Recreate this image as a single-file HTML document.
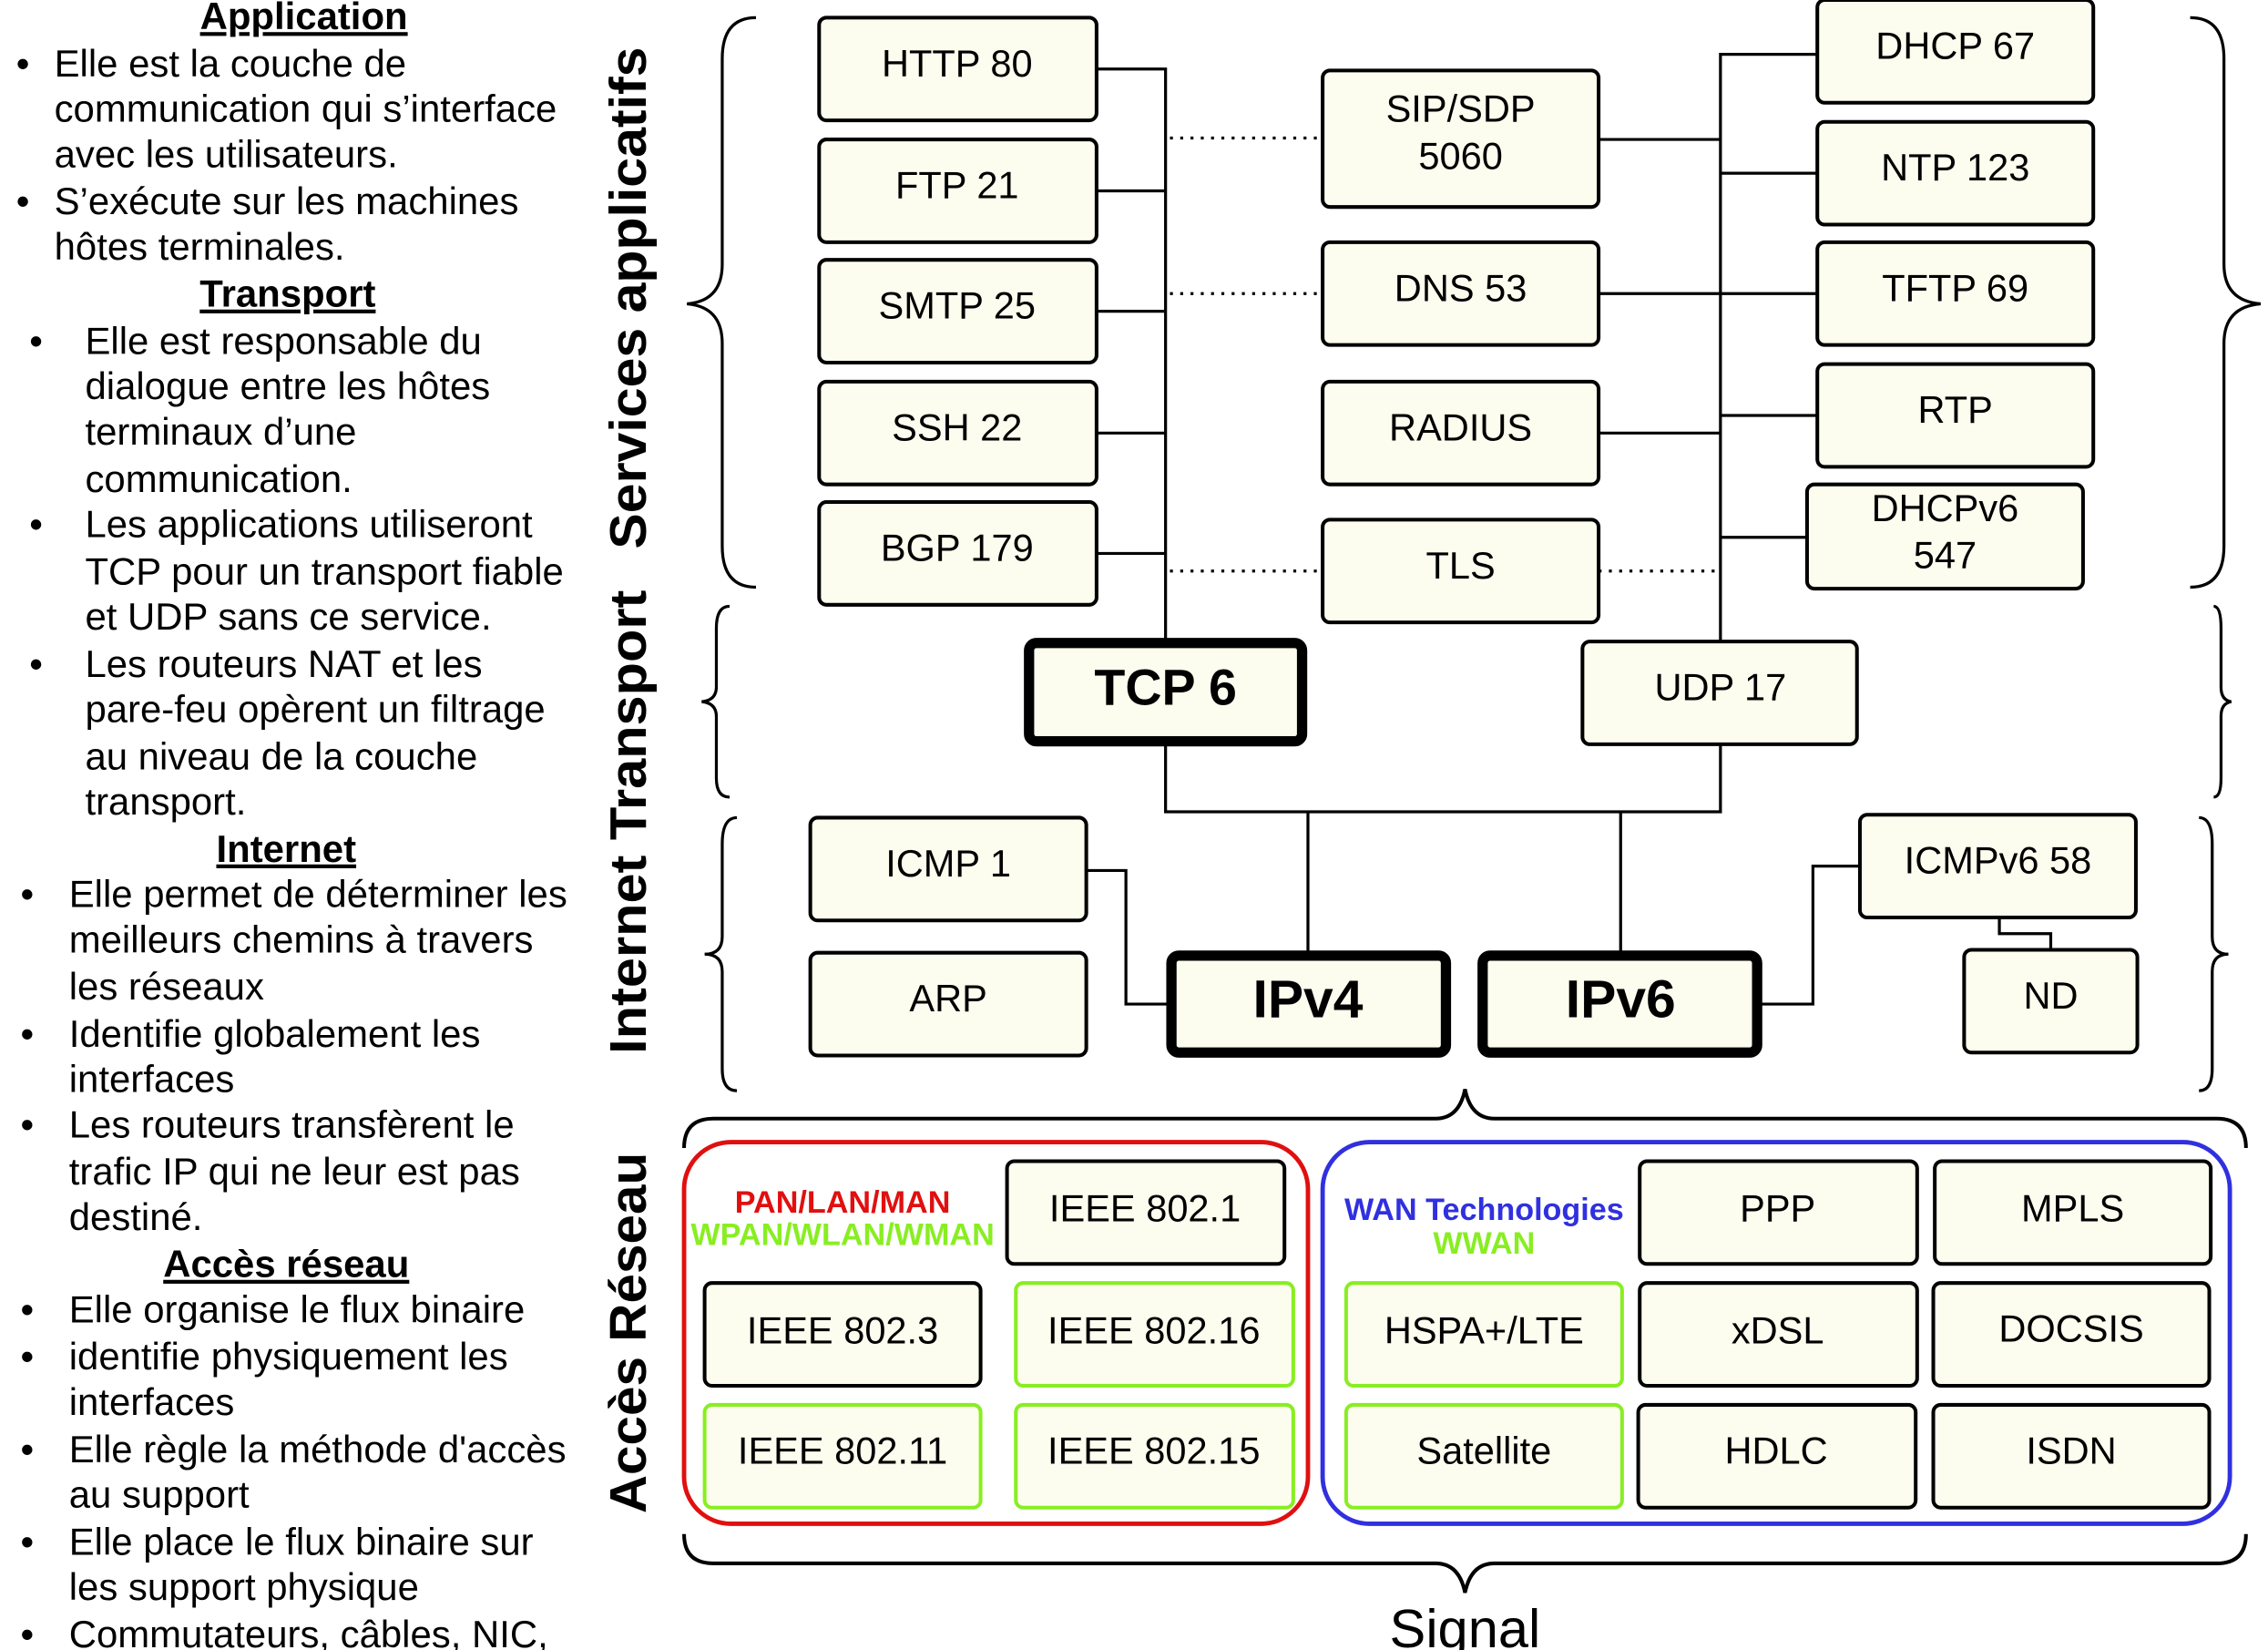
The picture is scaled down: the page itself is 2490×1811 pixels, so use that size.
<!DOCTYPE html>
<html><head><meta charset="utf-8"><style>
html,body{margin:0;padding:0;background:#fff;}
svg{display:block;}
text{font-family:"Liberation Sans",Arial,sans-serif;}
</style></head><body>
<svg width="2490" height="1811" viewBox="0 0 1545 1124" preserveAspectRatio="none" xmlns="http://www.w3.org/2000/svg">
<g font-size="26" fill="#000">
<text x="207" y="20" text-anchor="middle" font-weight="bold" text-decoration="underline">Application</text>
<text x="11" y="52">•</text><text x="37" y="52">Elle est la couche de</text>
<text x="37" y="83">communication qui s’interface</text>
<text x="37" y="114">avec les utilisateurs.</text>
<text x="11" y="146">•</text><text x="37" y="146">S’exécute sur les machines</text>
<text x="37" y="177">hôtes terminales.</text>
<text x="196" y="209" text-anchor="middle" font-weight="bold" text-decoration="underline">Transport</text>
<text x="20" y="241">•</text><text x="58" y="241">Elle est responsable du</text>
<text x="58" y="272">dialogue entre les hôtes</text>
<text x="58" y="303">terminaux d’une</text>
<text x="58" y="335">communication.</text>
<text x="20" y="366">•</text><text x="58" y="366">Les applications utiliseront</text>
<text x="58" y="398">TCP pour un transport fiable</text>
<text x="58" y="429">et UDP sans ce service.</text>
<text x="20" y="461">•</text><text x="58" y="461">Les routeurs NAT et les</text>
<text x="58" y="492">pare-feu opèrent un filtrage</text>
<text x="58" y="524">au niveau de la couche</text>
<text x="58" y="555">transport.</text>
<text x="195" y="587" text-anchor="middle" font-weight="bold" text-decoration="underline">Internet</text>
<text x="14" y="618">•</text><text x="47" y="618">Elle permet de déterminer les</text>
<text x="47" y="649">meilleurs chemins à travers</text>
<text x="47" y="681">les réseaux</text>
<text x="14" y="713">•</text><text x="47" y="713">Identifie globalement les</text>
<text x="47" y="744">interfaces</text>
<text x="14" y="775">•</text><text x="47" y="775">Les routeurs transfèrent le</text>
<text x="47" y="807">trafic IP qui ne leur est pas</text>
<text x="47" y="838">destiné.</text>
<text x="195" y="870" text-anchor="middle" font-weight="bold" text-decoration="underline">Accès réseau</text>
<text x="14" y="901">•</text><text x="47" y="901">Elle organise le flux binaire</text>
<text x="14" y="933">•</text><text x="47" y="933">identifie physiquement les</text>
<text x="47" y="964">interfaces</text>
<text x="14" y="996">•</text><text x="47" y="996">Elle règle la méthode d'accès</text>
<text x="47" y="1027">au support</text>
<text x="14" y="1059">•</text><text x="47" y="1059">Elle place le flux binaire sur</text>
<text x="47" y="1090">les support physique</text>
<text x="14" y="1122">•</text><text x="47" y="1122">Commutateurs, câbles, NIC,</text>
</g>
<g font-size="35" font-weight="bold">
<text transform="translate(440,203) rotate(-90)" text-anchor="middle" textLength="342" lengthAdjust="spacingAndGlyphs">Services applicatifs</text>
<text transform="translate(440,560) rotate(-90)" text-anchor="middle" textLength="316" lengthAdjust="spacingAndGlyphs">Internet  Transport</text>
<text transform="translate(440,908) rotate(-90)" text-anchor="middle" textLength="246" lengthAdjust="spacingAndGlyphs">Accès Réseau</text>
</g>
<g fill="none" stroke="#000" stroke-width="2">
<path d="M515,12 Q492,12 492,40 L492,180 Q492,205 468,207 Q492,209 492,234 L492,372 Q492,400 515,400"/>
<path d="M497,413 Q488,413 488,428 L488,468 Q488,477 478,478 Q488,479 488,488 L488,530 Q488,543 497,543"/>
<path d="M502,557 Q492,557 492,575 L492,638 Q492,650 480,650 Q492,650 492,662 L492,728 Q492,743 502,743"/>
<path d="M1492,12 Q1515,12 1515,40 L1515,180 Q1515,205 1540,207 Q1515,209 1515,234 L1515,372 Q1515,400 1492,400"/>
<path d="M1508,413 Q1513,413 1513,428 L1513,468 Q1513,477 1520,478 Q1513,479 1513,488 L1513,530 Q1513,543 1508,543"/>
<path d="M1498,557 Q1507,557 1507,575 L1507,638 Q1507,650 1518,650 Q1507,650 1507,662 L1507,728 Q1507,743 1498,743"/>
<path stroke-width="2.5" d="M466,782 Q466,762 486,762 L978,762 Q994,762 998,742 Q1002,762 1018,762 L1510,762 Q1530,762 1530,782"/>
<path stroke-width="2.5" d="M466,1045 Q466,1065 486,1065 L978,1065 Q994,1065 998,1085 Q1002,1065 1018,1065 L1510,1065 Q1530,1065 1530,1045"/>
</g>
<g fill="none" stroke="#000" stroke-width="2">
<path d="M747,47 H794 V435 M747,130 H794 M747,212 H794 M747,295 H794 M747,377 H794"/>
<path d="M794,508 V553 H1172 V507 M1172,437 V37 H1238 M1172,118 H1238 M1172,200 H1238 M1172,283 H1238 M1172,366 H1231"/>
<path d="M1089,95 H1172 M1089,200 H1172 M1089,295 H1172"/>
<path d="M891,553 V648 M1104,553 V648"/>
<path d="M740,593 H767 V684 H795"/>
<path d="M1200,684 H1235 V590 H1267"/>
<path d="M1362,625 V636 H1397 V647"/>
<path stroke-dasharray="2,5" d="M797,94 H901 M797,200 H901 M797,389 H901 M1089,389 H1172"/>
</g>
<g fill="#fdfdef" stroke="#000" stroke-width="2.5">
<rect x="558" y="12" width="189" height="70" rx="5"/>
<rect x="558" y="95" width="189" height="70" rx="5"/>
<rect x="558" y="177" width="189" height="70" rx="5"/>
<rect x="558" y="260" width="189" height="70" rx="5"/>
<rect x="558" y="342" width="189" height="70" rx="5"/>
<rect x="901" y="48" width="188" height="93" rx="5"/>
<rect x="901" y="165" width="188" height="70" rx="5"/>
<rect x="901" y="260" width="188" height="70" rx="5"/>
<rect x="901" y="354" width="188" height="70" rx="5"/>
<rect x="1238" y="0" width="188" height="70" rx="5"/>
<rect x="1238" y="83" width="188" height="70" rx="5"/>
<rect x="1238" y="165" width="188" height="70" rx="5"/>
<rect x="1238" y="248" width="188" height="70" rx="5"/>
<rect x="1231" y="330" width="188" height="71" rx="5"/>
<rect x="1078" y="437" width="187" height="70" rx="5"/>
<rect x="552" y="557" width="188" height="70" rx="5"/>
<rect x="552" y="649" width="188" height="70" rx="5"/>
<rect x="1267" y="555" width="188" height="70" rx="5"/>
<rect x="1338" y="647" width="118" height="70" rx="5"/>
<rect x="701" y="438" width="186" height="67" rx="5" stroke-width="7"/>
<rect x="798" y="651" width="187" height="66" rx="5" stroke-width="7"/>
<rect x="1010" y="651" width="187" height="66" rx="5" stroke-width="7"/>
</g>
<rect x="466" y="778" width="425" height="260" rx="32" fill="none" stroke="#e01010" stroke-width="3"/>
<rect x="901" y="778" width="618" height="260" rx="32" fill="none" stroke="#3030e0" stroke-width="3"/>
<g fill="#fdfdef" stroke-width="2.5">
<rect x="686" y="791" width="189" height="70" rx="5" stroke="#000"/>
<rect x="480" y="874" width="188" height="70" rx="5" stroke="#000"/>
<rect x="692" y="874" width="189" height="70" rx="5" stroke="#88ee22"/>
<rect x="480" y="957" width="188" height="70" rx="5" stroke="#88ee22"/>
<rect x="692" y="957" width="189" height="70" rx="5" stroke="#88ee22"/>
<rect x="1117" y="791" width="189" height="70" rx="5" stroke="#000"/>
<rect x="1318" y="791" width="188" height="70" rx="5" stroke="#000"/>
<rect x="917" y="874" width="188" height="70" rx="5" stroke="#88ee22"/>
<rect x="1117" y="874" width="189" height="70" rx="5" stroke="#000"/>
<rect x="1317" y="874" width="188" height="70" rx="5" stroke="#000"/>
<rect x="917" y="957" width="188" height="70" rx="5" stroke="#88ee22"/>
<rect x="1116" y="957" width="189" height="70" rx="5" stroke="#000"/>
<rect x="1317" y="957" width="188" height="70" rx="5" stroke="#000"/>
</g>
<g font-size="25.8" text-anchor="middle">
<text x="652" y="52">HTTP 80</text>
<text x="652" y="135">FTP 21</text>
<text x="652" y="217">SMTP 25</text>
<text x="652" y="300">SSH 22</text>
<text x="652" y="382">BGP 179</text>
<text x="995" y="83">SIP/SDP</text>
<text x="995" y="115">5060</text>
<text x="995" y="205">DNS 53</text>
<text x="995" y="300">RADIUS</text>
<text x="995" y="394">TLS</text>
<text x="1332" y="40">DHCP 67</text>
<text x="1332" y="123">NTP 123</text>
<text x="1332" y="205">TFTP 69</text>
<text x="1332" y="288">RTP</text>
<text x="1325" y="355">DHCPv6</text>
<text x="1325" y="387">547</text>
<text x="1172" y="477">UDP 17</text>
<text x="646" y="597">ICMP 1</text>
<text x="646" y="689">ARP</text>
<text x="1361" y="595">ICMPv6 58</text>
<text x="1397" y="687">ND</text>
<text x="780" y="832">IEEE 802.1</text>
<text x="574" y="915">IEEE 802.3</text>
<text x="786" y="915">IEEE 802.16</text>
<text x="574" y="997">IEEE 802.11</text>
<text x="786" y="997">IEEE 802.15</text>
<text x="1211" y="832">PPP</text>
<text x="1412" y="832">MPLS</text>
<text x="1011" y="915">HSPA+/LTE</text>
<text x="1211" y="915">xDSL</text>
<text x="1411" y="914">DOCSIS</text>
<text x="1011" y="997">Satellite</text>
<text x="1210" y="997">HDLC</text>
<text x="1411" y="997">ISDN</text>
</g>
<g font-weight="bold" text-anchor="middle">
<text x="794" y="480" font-size="34.5">TCP 6</text>
<text x="891" y="693" font-size="36.5">IPv4</text>
<text x="1104" y="693" font-size="36.5">IPv6</text>
<text x="574" y="826" font-size="21.2" fill="#e01010">PAN/LAN/MAN</text>
<text x="574" y="848" font-size="21.2" fill="#88ee22">WPAN/WLAN/WMAN</text>
<text x="1011" y="831" font-size="21.2" fill="#3030e0">WAN Technologies</text>
<text x="1011" y="854" font-size="21.2" fill="#88ee22">WWAN</text>
</g>
<text x="998" y="1122" font-size="37" text-anchor="middle">Signal</text>
</svg>
</body></html>
